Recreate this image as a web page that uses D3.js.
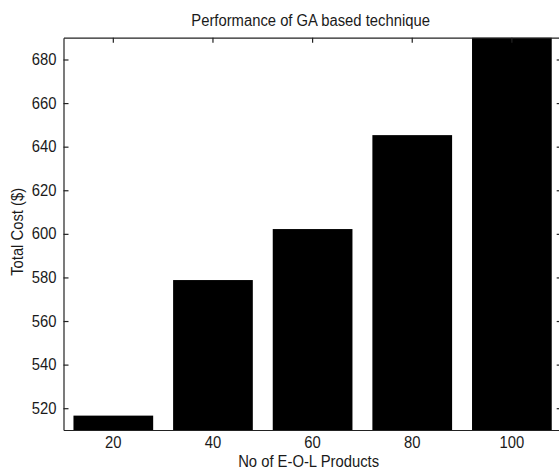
<!DOCTYPE html>
<html>
<head>
<meta charset="utf-8">
<script src="https://cdn.jsdelivr.net/npm/d3@7"></script>
<style>
  html, body { margin: 0; padding: 0; background: #fff; }
  svg { display: block; }
  text { font-family: "Liberation Sans", Arial, sans-serif; fill: #1a1a1a; }
</style>
</head>
<body>
<svg id="chart" width="559" height="468"></svg>
<script>
const categories = ["20", "40", "60", "80", "100"];
const totalCost = [516.6, 578.8, 602.2, 645.3, 700];
const yTicks = [520, 540, 560, 580, 600, 620, 640, 660, 680];
const yDomain = [510, 690];
const titleText = "Performance of GA based technique";
const xLabelText = "No of E-O-L Products";
const yLabelText = "Total Cost ($)";

(function () {
const svg = d3.select("#chart");
const pLeft = 63.5, pRight = 561.7, pTop = 37.7, pBottom = 430;
const fs = 14.8, fsTall = 16;

const x = d3.scaleBand().domain(categories).range([pLeft, pRight]).paddingInner(0.2).paddingOuter(0.1);
const y = d3.scaleLinear().domain(yDomain).range([pBottom, pTop]);

svg.append("rect").attr("x", 0).attr("y", 0).attr("width", 559).attr("height", 468).attr("fill", "#fff");

svg.append("defs").append("clipPath").attr("id", "plotclip")
  .append("rect").attr("x", pLeft).attr("y", pTop).attr("width", pRight - pLeft).attr("height", pBottom - pTop);

const data = categories.map((c, i) => ({ c, v: totalCost[i] }));

svg.append("g").attr("clip-path", "url(#plotclip)")
  .selectAll("rect").data(data).enter().append("rect")
  .attr("x", d => x(d.c))
  .attr("width", x.bandwidth())
  .attr("y", d => y(d.v))
  .attr("height", d => y(yDomain[0]) - y(d.v))
  .attr("fill", "#000");

const tickLen = 5;
const yAxisL = d3.axisLeft(y).tickValues(yTicks).tickSizeInner(-tickLen).tickSizeOuter(0).tickPadding(7).tickFormat(d3.format("d"));
const gL = svg.append("g").attr("transform", `translate(${pLeft},0)`).call(yAxisL);
const yAxisR = d3.axisRight(y).tickValues(yTicks).tickSizeInner(-tickLen).tickSizeOuter(0).tickFormat("");
const gR = svg.append("g").attr("transform", `translate(${pRight},0)`).call(yAxisR);
const xAxisB = d3.axisBottom(x).tickSizeInner(-tickLen).tickSizeOuter(0).tickPadding(6.5);
const gB = svg.append("g").attr("transform", `translate(0,${pBottom})`).call(xAxisB);
const xAxisT = d3.axisTop(x).tickSizeInner(-tickLen).tickSizeOuter(0).tickFormat("");
const gT = svg.append("g").attr("transform", `translate(0,${pTop})`).call(xAxisT);

[gL, gR, gB, gT].forEach(g => {
  g.selectAll("path.domain").attr("stroke", "#222").attr("stroke-width", 1.2);
  g.selectAll(".tick line").attr("stroke", "#222").attr("stroke-width", 1.2);
  g.selectAll("text").style("font-family", '"Liberation Sans", Arial, sans-serif').style("font-size", fs + "px").attr("fill", "#1a1a1a");
});
gB.selectAll(".tick line").remove();
gB.raise();

svg.append("text").attr("x", (pLeft + pRight) / 2 - 2).attr("y", 26)
  .attr("text-anchor", "middle").style("font-size", fs + "px").text(titleText);

svg.append("text").attr("x", (pLeft + pRight) / 2 - 4).attr("y", 466.5)
  .attr("text-anchor", "middle").style("font-size", fs + "px").text(xLabelText);

svg.append("text").attr("transform", `translate(22.5,${(pTop + pBottom) / 2 - 2}) rotate(-90)`)
  .attr("text-anchor", "middle").style("font-size", fs + "px").text(yLabelText);

// the reference glyphs are slightly taller than wide: keep width, raise height
svg.selectAll("text").each(function () {
  const w = this.getComputedTextLength();
  d3.select(this).style("font-size", fsTall + "px")
    .attr("textLength", w).attr("lengthAdjust", "spacingAndGlyphs");
});
})();
</script>
</body>
</html>
